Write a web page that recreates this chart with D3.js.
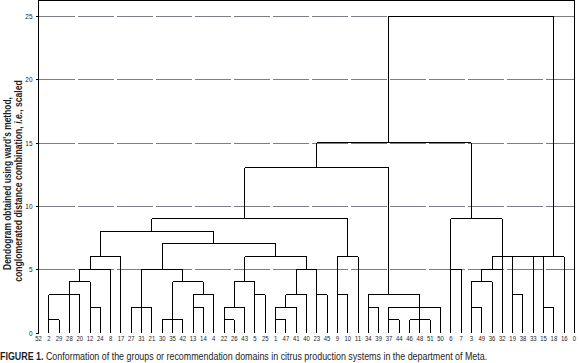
<!DOCTYPE html>
<html>
<head>
<meta charset="utf-8">
<script src="https://cdn.jsdelivr.net/npm/d3@7/dist/d3.min.js"></script>
<style>
  body { margin: 0; background: #fff; }
  svg { display: block; }
  text { font-family: 'Liberation Sans', Arial, sans-serif; fill: #1e1e24; }
  .frame, .links path { fill: none; stroke: #000; stroke-width: 1; shape-rendering: crispEdges; }
  .grid line { stroke: #7d7d85; stroke-width: 1; stroke-dasharray: 36 3; shape-rendering: crispEdges; }
  .grid path, .y-axis path { display: none; }
  .y-axis line { stroke: #000; shape-rendering: crispEdges; }
</style>
</head>
<body>
<div class="chart"></div>
<script>
// leaf order along the bottom
const leaves = ['52', '2', '29', '28', '20', '12', '24', '8', '17', '27', '31', '21', '30', '35',
  '42', '13', '14', '4', '22', '26', '43', '5', '25', '1', '47', '41', '40', '23', '45', '9',
  '10', '11', '34', '39', '37', '44', '46', '48', '51', '50', '6', '7', '3', '49', '36', '32',
  '19', '38', '33', '15', '18', '16', '0'];

const yTicks = [0, 5, 10, 15, 20, 25];
const gridTicks = [5, 10, 15, 20, 25];

// merges: [height of the bar, [leaf, height where that leg starts], ...]
const mergesLeft = [
  [1, ['2', 0], ['29', 0]],
  [3, ['2', 1], ['20', 0]],
  [2, ['12', 0], ['24', 0]],
  [4, ['28', 0], ['12', 2]],
  [5, ['20', 4], ['8', 0]],
  [6, ['12', 5], ['17', 0]],
  [8, ['24', 6], ['4', 7]],
];

const mergesMiddle = [
  [2, ['27', 0], ['21', 0]],
  [1, ['30', 0], ['42', 0]],
  [2, ['13', 0], ['14', 0]],
  [3, ['13', 2], ['4', 0]],
  [4, ['35', 0], ['14', 3]],
  [5, ['31', 0], ['42', 4]],
  [7, ['30', 5], ['1', 6]],
  [1, ['22', 0], ['26', 0]],
  [2, ['22', 1], ['43', 0]],
  [3, ['5', 0], ['25', 0]],
  [4, ['26', 2], ['5', 3]],
  [1, ['1', 0], ['47', 0]],
  [2, ['1', 1], ['41', 0]],
  [3, ['47', 2], ['40', 0]],
  [3, ['23', 0], ['45', 0]],
  [5, ['41', 3], ['23', 3]],
  [6, ['43', 4], ['40', 5]],
  [3, ['9', 0], ['10', 0]],
  [6, ['9', 3], ['11', 0]],
  [9, ['21', 8], ['10', 6]],
  [13, ['43', 9], ['37', 3]],
];

const mergesRight = [
  [2, ['34', 0], ['39', 0]],
  [1, ['37', 0], ['44', 0]],
  [1, ['46', 0], ['48', 0], ['51', 0]],
  [2, ['37', 1], ['48', 1], ['50', 0]],
  [3, ['34', 2], ['48', 2]],
  [5, ['6', 0], ['7', 0]],
  [2, ['3', 0], ['49', 0]],
  [4, ['3', 2], ['36', 0]],
  [5, ['49', 4], ['32', 0]],
  [3, ['19', 0], ['38', 0]],
  [2, ['15', 0], ['18', 0]],
  [6, ['36', 5], ['19', 0], ['33', 0], ['15', 2], ['16', 0]],
  [9, ['6', 5], ['32', 5]],
  [15, ['23', 13], ['3', 9]],
  [25, ['37', 15], ['18', 6]],
];

const titleLine1 = "Dendogram obtained using ward's method,";
const titleLine2 = ['conglomerated distance combination, ', 'i.e.', ', scaled'];
const caption = ['FIGURE 1.', ' Conformation of the groups or recommendation domains in citrus production systems in the department of Meta.'];

const width = 579;
const height = 363;
const plot = { left: 38.5, right: 574.5, top: 0.5, zero: 332.6, max: 16 };

const svg = d3
  .select('.chart')
  .append('svg')
  .attr('width', width)
  .attr('height', height);

const x = d3
  .scalePoint()
  .domain(d3.range(leaves.length))
  .range([plot.left, plot.right]);
const y = d3
  .scaleLinear()
  .domain([0, 25])
  .range([plot.zero, plot.max]);
const xOf = label => x(leaves.indexOf(label));

// squeeze a text horizontally to the narrow face of the original
const narrow = (sel, tx, ty, len, rot) => {
  const w = sel.node().getComputedTextLength();
  sel.attr('transform', `translate(${tx}, ${ty}) rotate(${rot || 0}) scale(${len / w}, 1)`);
};

// dashed grid
svg
  .append('g')
  .attr('class', 'grid')
  .attr('transform', `translate(${plot.left}, 0)`)
  .call(d3.axisLeft(y).tickValues(gridTicks).tickSize(-(plot.right - plot.left)).tickFormat(''));

// y axis ticks and labels
svg
  .append('g')
  .attr('class', 'y-axis')
  .attr('transform', `translate(${plot.left}, 0)`)
  .call(d3.axisLeft(y).tickValues(yTicks).tickSize(3).tickPadding(3))
  .selectAll('text')
  .attr('font-size', 8)
  .attr('textLength', d => String(d).length * 3.6)
  .attr('lengthAdjust', 'spacingAndGlyphs')
  .style('font-family', null)
  .style('fill', '#1e1e24');

// frame
svg
  .append('path')
  .attr('class', 'frame')
  .attr('d', `M${x(0)},${y(0)}V${plot.top}H${x(leaves.length - 1)}V${y(0)}`);

// dendrogram links
const merges = mergesLeft.concat(mergesMiddle, mergesRight);
const linkPath = m => {
  const h = m[0];
  const legs = m.slice(1);
  const xs = legs.map(l => xOf(l[0]));
  const p = d3.path();
  p.moveTo(d3.min(xs), y(h));
  p.lineTo(d3.max(xs), y(h));
  legs.forEach(l => {
    p.moveTo(xOf(l[0]), y(l[1]));
    p.lineTo(xOf(l[0]), y(h));
  });
  return p.toString();
};

svg
  .append('g')
  .attr('class', 'links')
  .selectAll('path')
  .data(merges)
  .enter()
  .append('path')
  .attr('d', linkPath);

// leaf labels
svg
  .append('g')
  .selectAll('text')
  .data(leaves)
  .enter()
  .append('text')
  .attr('x', (d, i) => x(i))
  .attr('y', 340.5)
  .attr('text-anchor', 'middle')
  .attr('font-size', 7.5)
  .attr('textLength', d => d.length * 3.3)
  .attr('lengthAdjust', 'spacingAndGlyphs')
  .text(d => d);

// rotated y title
const t1 = svg
  .append('text')
  .attr('text-anchor', 'middle')
  .attr('font-size', 10.5)
  .attr('font-weight', 'bold')
  .text(titleLine1);
narrow(t1, 10.5, 183.5, 173, -90);

const t2 = svg
  .append('text')
  .attr('text-anchor', 'middle')
  .attr('font-size', 10.5)
  .attr('font-weight', 'bold');
t2.selectAll('tspan')
  .data(titleLine2)
  .enter()
  .append('tspan')
  .attr('font-style', (d, i) => (i === 1 ? 'italic' : 'normal'))
  .text(d => d);
narrow(t2, 22, 181, 202, -90);

// caption
const cap = svg
  .append('text')
  .attr('font-size', 10.5);
cap.selectAll('tspan')
  .data(caption)
  .enter()
  .append('tspan')
  .attr('font-weight', (d, i) => (i === 0 ? 'bold' : 'normal'))
  .text(d => d);
narrow(cap, 0, 360, 488);
</script>
</body>
</html>
